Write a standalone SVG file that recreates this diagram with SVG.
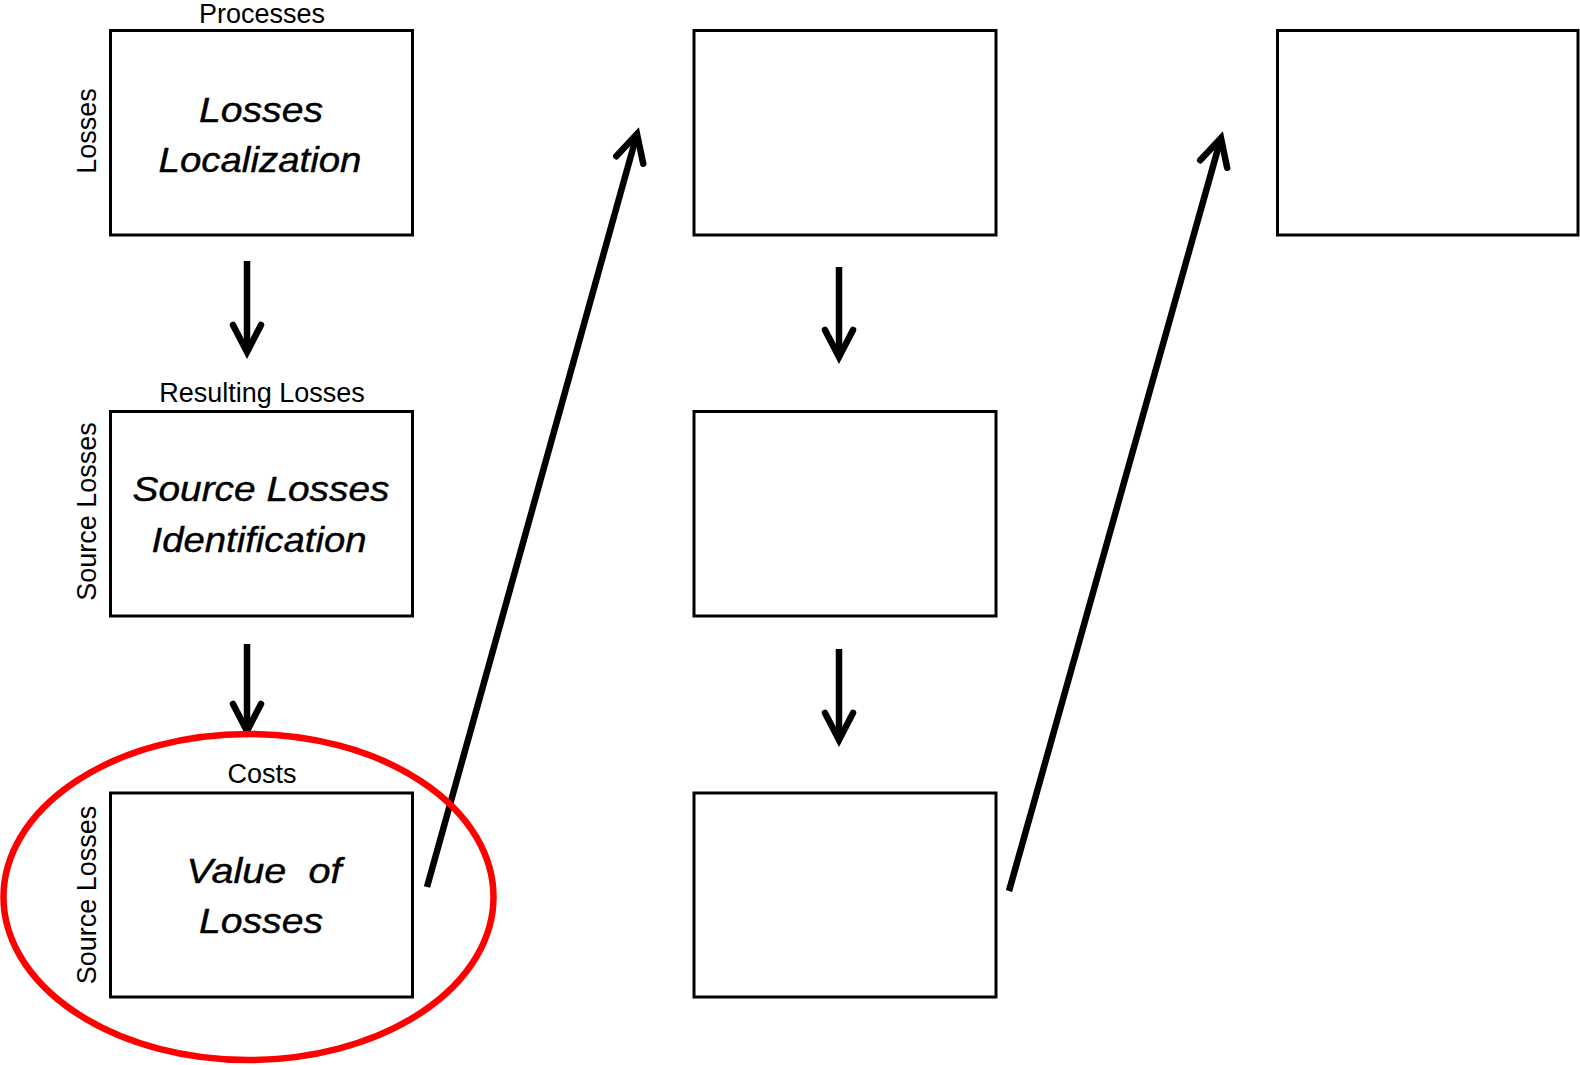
<svg xmlns="http://www.w3.org/2000/svg" width="1580" height="1065" viewBox="0 0 1580 1065">
<style>
.box{fill:#fff;stroke:#000;stroke-width:3}
.lbl{font-family:"Liberation Sans",Arial,sans-serif;font-size:27px;fill:#000;text-anchor:middle}
.main{font-family:"Liberation Sans",Arial,sans-serif;font-size:35px;font-style:italic;fill:#000;stroke:#000;stroke-width:0.4;text-anchor:middle;white-space:pre}
.arr{stroke:#000;stroke-width:6.5;fill:none;marker-end:url(#ah)}
</style>
<defs>
<marker id="ah" markerUnits="userSpaceOnUse" viewBox="-36 -22 44 44" refX="0" refY="0" markerWidth="44" markerHeight="44" orient="auto">
<path d="M-27,-14 L0,0 L-27,14" fill="none" stroke="#000" stroke-width="6.5" stroke-linejoin="miter" stroke-linecap="round"/>
</marker>
</defs>
<rect width="1580" height="1065" fill="#fff"/>
<g id="connectors">
<line class="arr" x1="247" y1="261" x2="247" y2="352"/>
<line class="arr" x1="247" y1="644" x2="247" y2="731"/>
<line class="arr" x1="839" y1="267" x2="839" y2="357"/>
<line class="arr" x1="839" y1="649" x2="839" y2="740"/>
<line class="arr" x1="427" y1="887" x2="637" y2="134"/>
<line class="arr" x1="1009" y1="891" x2="1221" y2="138"/>
</g>
<g id="node-losses-localization">
<rect class="box" x="110.5" y="30.5" width="302" height="204.5"/>
<text class="lbl" x="262" y="23">Processes</text>
<text class="lbl" transform="translate(96,131) rotate(-90)">Losses</text>
<text class="main" x="261" y="122" textLength="124" lengthAdjust="spacingAndGlyphs">Losses</text>
<text class="main" x="260" y="172" textLength="203" lengthAdjust="spacingAndGlyphs">Localization</text>
</g>
<g id="node-source-losses-identification">
<rect class="box" x="110.5" y="411.5" width="302" height="204.5"/>
<text class="lbl" x="262" y="402">Resulting Losses</text>
<text class="lbl" transform="translate(96,511.5) rotate(-90)">Source Losses</text>
<text class="main" x="261" y="501" textLength="257" lengthAdjust="spacingAndGlyphs">Source Losses</text>
<text class="main" x="259" y="552" textLength="215" lengthAdjust="spacingAndGlyphs">Identification</text>
</g>
<g id="node-value-of-losses">
<rect class="box" x="110.5" y="793" width="302" height="204"/>
<text class="lbl" x="262" y="783">Costs</text>
<text class="lbl" transform="translate(96,895) rotate(-90)">Source Losses</text>
<text class="main" x="264" y="883" textLength="155" lengthAdjust="spacingAndGlyphs">Value  of</text>
<text class="main" x="261" y="933" textLength="124" lengthAdjust="spacingAndGlyphs">Losses</text>
</g>
<g id="node-m1"><rect class="box" x="694" y="30.5" width="302" height="204.5"/></g>
<g id="node-m2"><rect class="box" x="694" y="411.5" width="302" height="204.5"/></g>
<g id="node-m3"><rect class="box" x="694" y="793" width="302" height="204"/></g>
<g id="node-r1"><rect class="box" x="1277.5" y="30.5" width="300.5" height="204.5"/></g>
<g id="highlight">
<ellipse cx="248.5" cy="897" rx="245" ry="163" fill="none" stroke="#f00" stroke-width="6.5"/>
</g>
</svg>
